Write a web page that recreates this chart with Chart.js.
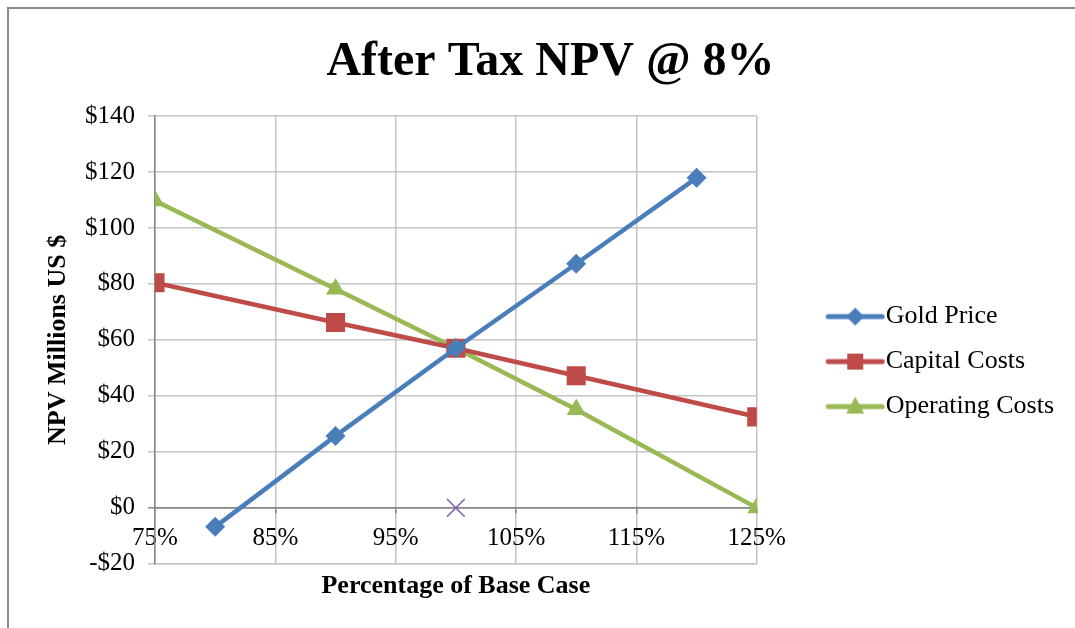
<!DOCTYPE html>
<html>
<head>
<meta charset="utf-8">
<script src="https://cdn.jsdelivr.net/npm/chart.js@4/dist/chart.umd.min.js"></script>
<style>
  html, body { margin: 0; padding: 0; background: #fff; }
  #frame { position: absolute; left: 7px; top: 7px; width: 1100px; height: 700px; border-left: 2px solid #8c8c8c; border-top: 2px solid #8c8c8c; pointer-events: none; }
  #chart { position: absolute; left: 0; top: 0; }
</style>
</head>
<body>
<div id="frame"></div>
<canvas id="chart" width="1075" height="628"></canvas>
<script>
// 敏感度分析：稅後 NPV @ 8%（百萬美元）
const goldPct = [80, 90, 100, 110, 120];
const goldNpv = [-6.8, 25.7, 57, 87.2, 117.9];
const capexPct = [75, 90, 100, 110, 125];
const capexNpv = [80.4, 66.2, 57, 47.2, 32.5];
const opexPct = [75, 90, 100, 110, 125];
const opexNpv = [109.7, 78.2, 57, 35.1, 0];
const basePct = [100];
const baseNpv = [0];

const xTicks = { min: 75, max: 125, step: 10 };
const yTicks = { min: -20, max: 140, step: 20 };

const BLUE = '#4a7ebb', RED = '#be4b48', GREEN = '#98b954', PURPLE = '#7d60a0';
const GRID = '#c4c4c4', AXIS = '#868686';
const SERIF = "'Liberation Serif', 'Times New Roman', serif";

const pts = (xs, ys) => xs.map((x, i) => ({ x, y: ys[i] }));

// 圖例小圖：線 + 中間的標記（Excel 樣式）
function legendIcon(color, shape) {
  const c = document.createElement('canvas');
  c.width = 122; c.height = 24;
  const g = c.getContext('2d');
  g.strokeStyle = color; g.fillStyle = color;
  g.lineWidth = 5; g.lineCap = 'round';
  g.beginPath(); g.moveTo(65, 12); g.lineTo(119, 12); g.stroke();
  const cx = 92, cy = 12;
  g.beginPath();
  if (shape === 'diamond') {
    g.moveTo(cx, cy - 9); g.lineTo(cx + 9, cy); g.lineTo(cx, cy + 9); g.lineTo(cx - 9, cy);
  } else if (shape === 'square') {
    g.rect(cx - 8, cy - 8, 16, 16);
  } else {
    g.moveTo(cx, cy - 10); g.lineTo(cx + 9, cy + 7); g.lineTo(cx - 9, cy + 7);
  }
  g.closePath(); g.fill();
  return c;
}

const series = [
  { label: 'Gold Price', data: pts(goldPct, goldNpv), color: BLUE, style: 'rectRot', r: 10, icon: 'diamond' },
  { label: 'Capital Costs', data: pts(capexPct, capexNpv), color: RED, style: 'rect', r: 13.5, icon: 'square' },
  { label: 'Operating Costs', data: pts(opexPct, opexNpv), color: GREEN, style: 'triangle', r: 11, icon: 'triangle' }
];

const datasets = series.map(s => ({
  label: s.label,
  data: s.data,
  borderColor: s.color,
  backgroundColor: s.color,
  borderWidth: 4.5,
  pointStyle: s.style,
  pointRadius: s.r,
  pointHoverRadius: s.r,
  pointBorderWidth: 0,
  pointBackgroundColor: s.color,
  tension: 0,
  _icon: legendIcon(s.color, s.icon)
}));
datasets.push({
  label: 'Base',
  data: pts(basePct, baseNpv),
  showLine: false,
  borderColor: PURPLE,
  backgroundColor: PURPLE,
  pointStyle: 'crossRot',
  pointRadius: 12.5,
  pointBorderWidth: 1.5
});

new Chart(document.getElementById('chart'), {
  type: 'line',
  data: { datasets },
  options: {
    responsive: false,
    animation: false,
    devicePixelRatio: 1,
    layout: { padding: { left: 37, right: 11, top: 0, bottom: 23 } },
    plugins: {
      title: {
        display: true,
        text: 'After Tax NPV @ 8%',
        color: '#000',
        font: { family: SERIF, size: 48, weight: 'bold' },
        padding: { top: 34, bottom: 24.4 }
      },
      tooltip: { enabled: false },
      legend: {
        position: 'right',
        maxWidth: 420,
        title: { display: true, text: ' ', font: { size: 1 }, padding: { top: 117, bottom: 0 } },
        labels: {
          usePointStyle: true,
          pointStyleWidth: 97,
          padding: 19,
          color: '#000',
          font: { family: SERIF, size: 26 },
          generateLabels: chart => chart.data.datasets.slice(0, 3).map((ds, i) => ({
            text: ds.label,
            pointStyle: ds._icon,
            fillStyle: ds.borderColor,
            strokeStyle: 'transparent',
            lineWidth: 0,
            fontColor: '#000',
            hidden: false,
            datasetIndex: i
          }))
        }
      }
    },
    scales: {
      x: {
        type: 'linear',
        min: xTicks.min, max: xTicks.max,
        ticks: { display: false, stepSize: xTicks.step },
        grid: { color: GRID, lineWidth: 1.5, drawTicks: false },
        border: { color: GRID, width: 1.5 },
        title: {
          display: true,
          text: 'Percentage of Base Case',
          color: '#000',
          font: { family: SERIF, size: 26, weight: 'bold' },
          padding: { top: 7, bottom: 3 }
        }
      },
      xz: {
        type: 'linear',
        axis: 'x',
        position: { y: 0 },
        min: xTicks.min, max: xTicks.max,
        afterFit: s => { s.height = 0; },
        ticks: {
          stepSize: xTicks.step,
          padding: 11,
          color: '#000',
          maxRotation: 0,
          font: { family: SERIF, size: 25 },
          callback: v => v + '%'
        },
        grid: { drawOnChartArea: false, color: AXIS, lineWidth: 1.5, tickLength: 5 },
        border: { color: AXIS, width: 1.5 }
      },
      y: {
        min: yTicks.min, max: yTicks.max,
        ticks: {
          stepSize: yTicks.step,
          padding: 13,
          color: '#000',
          font: { family: SERIF, size: 25 },
          callback: v => (v < 0 ? '-$' : '$') + Math.abs(v)
        },
        grid: {
          color: c => (c.tick && c.tick.value === 0 ? AXIS : GRID),
          lineWidth: 1.5,
          tickLength: 7
        },
        border: { color: AXIS, width: 1.5 },
        title: {
          display: true,
          text: 'NPV Millions US $',
          color: '#000',
          font: { family: SERIF, size: 26, weight: 'bold', lineHeight: 1 },
          padding: { top: 8, bottom: 1 }
        }
      }
    }
  }
});
</script>
</body>
</html>
